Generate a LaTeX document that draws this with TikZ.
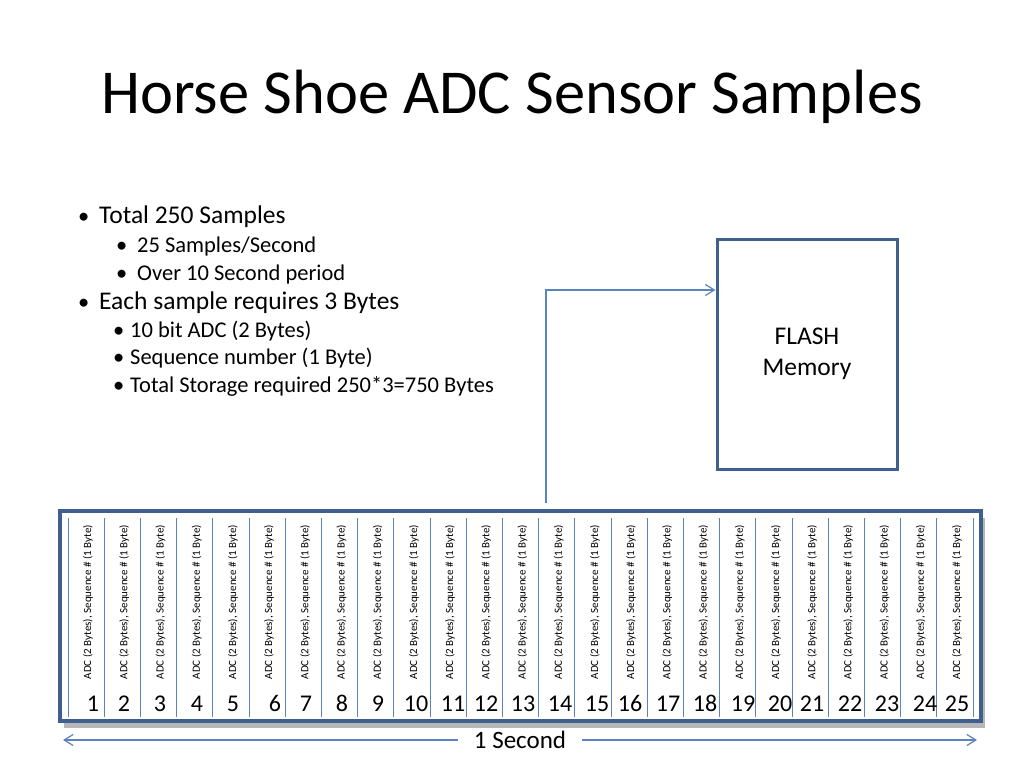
\documentclass[tikz,border=0pt]{standalone}
\usepackage{fontspec}
\setmainfont{Carlito}
\usetikzlibrary{shadows,arrows.meta}

\definecolor{frameblue}{HTML}{3F5F8C}
\definecolor{lineblue}{HTML}{5B83BE}

\newcommand\slotText [0]{ADC (2 Bytes), Sequence \# (1 Byte)}
\newcommand\slotWidth[0]{36.2}

\tikzset{
  every node/.style={inner sep=0pt},
  title/.style={font=\fontsize{62.5}{70}\selectfont},
  level one/.style={anchor=west,font=\fontsize{25.5}{30}\selectfont},
  level two/.style={anchor=west,font=\fontsize{22.5}{27}\selectfont},
  memory box/.style={draw=frameblue,line width=3pt,minimum width=180pt,minimum height=230pt,
                     align=center,font=\fontsize{25.5}{31}\selectfont},
  sample frame/.style={draw=frameblue,fill=white,line width=3.5pt,minimum width=921pt,minimum height=210pt,
                       drop shadow={shadow xshift=4pt,shadow yshift=-7pt,opacity=0.4,fill=black!70}},
  slot line/.style={draw=lineblue,line width=0.8pt},
  slot text/.style={rotate=90,font=\fontsize{11}{13}\selectfont},
  slot number/.style={anchor=base,font=\fontsize{24}{28}\selectfont},
  flow/.style={draw=lineblue,line width=1.2pt,-{Straight Barb[length=9pt,width=11pt]}}
}

\begin{document}
\begin{tikzpicture}[x=1pt,y=-1pt]
  \useasboundingbox (0,0) rectangle (1024,768);

  \node [title]                    (title) at (512,97)  {Horse Shoe ADC Sensor Samples};

  % bullet points
  \node [level two]                        at (78,218)  {\textbullet};
  \node [level one]                (b1)    at (99,217)  {Total 250 Samples};
  \node [level two]                        at (116,247) {\textbullet};
  \node [level two]                (b11)   at (137,246) {25 Samples/Second};
  \node [level two]                        at (116,275) {\textbullet};
  \node [level two]                (b12)   at (137,274) {Over 10 Second period};
  \node [level two]                        at (78,304)  {\textbullet};
  \node [level one]                (b2)    at (99,303)  {Each sample requires 3 Bytes};
  \node [level two]                        at (113,332) {\textbullet};
  \node [level two]                (b21)   at (130,331) {10 bit ADC (2 Bytes)};
  \node [level two]                        at (113,359) {\textbullet};
  \node [level two]                (b22)   at (130,358) {Sequence number (1 Byte)};
  \node [level two]                        at (113,387) {\textbullet};
  \node [level two]                (b23)   at (130,386) {Total Storage required 250*3=750 Bytes};

  \node [memory box]               (flash) at (807,354) {FLASH\\Memory};

  % sample buffer
  \node [sample frame]             (frame) at (520.5,616) {};
  \foreach \i in {0,...,25}
    \draw [slot line] (68+\slotWidth*\i,518) -- (68+\slotWidth*\i,717);
  \foreach \i in {1,...,25}
    \node [slot text] (adc-\i) at (70+\slotWidth*\i-\slotWidth/2,602) {\slotText};
  \foreach \n/\x in {1/93,2/124,3/160,4/197,5/233,6/275,7/306,8/342,9/378,10/416,
                     11/453,12/486,13/523,14/560,15/597,16/630,17/668,18/705,19/743,
                     20/780,21/812,22/850,23/887,24/925,25/957}
    \node [slot number] (num-\n) at (\x,711) {\n};

  % connectors
  \coordinate (tap)    at (546,503);
  \coordinate (inlet)  at ([yshift=64pt]flash.west);
  \draw [flow] (tap) |- (inlet);

  \coordinate (span-l) at (63,740);
  \coordinate (span-r) at (977,740);
  \draw [flow,{Straight Barb[length=9pt,width=11pt]}-{Straight Barb[length=9pt,width=11pt]}]
    (span-l) -- node [fill=white,inner xsep=16pt,inner ysep=2pt,font=\fontsize{25}{30}\selectfont] (span) {1 Second} (span-r);

\end{tikzpicture}
\end{document}
